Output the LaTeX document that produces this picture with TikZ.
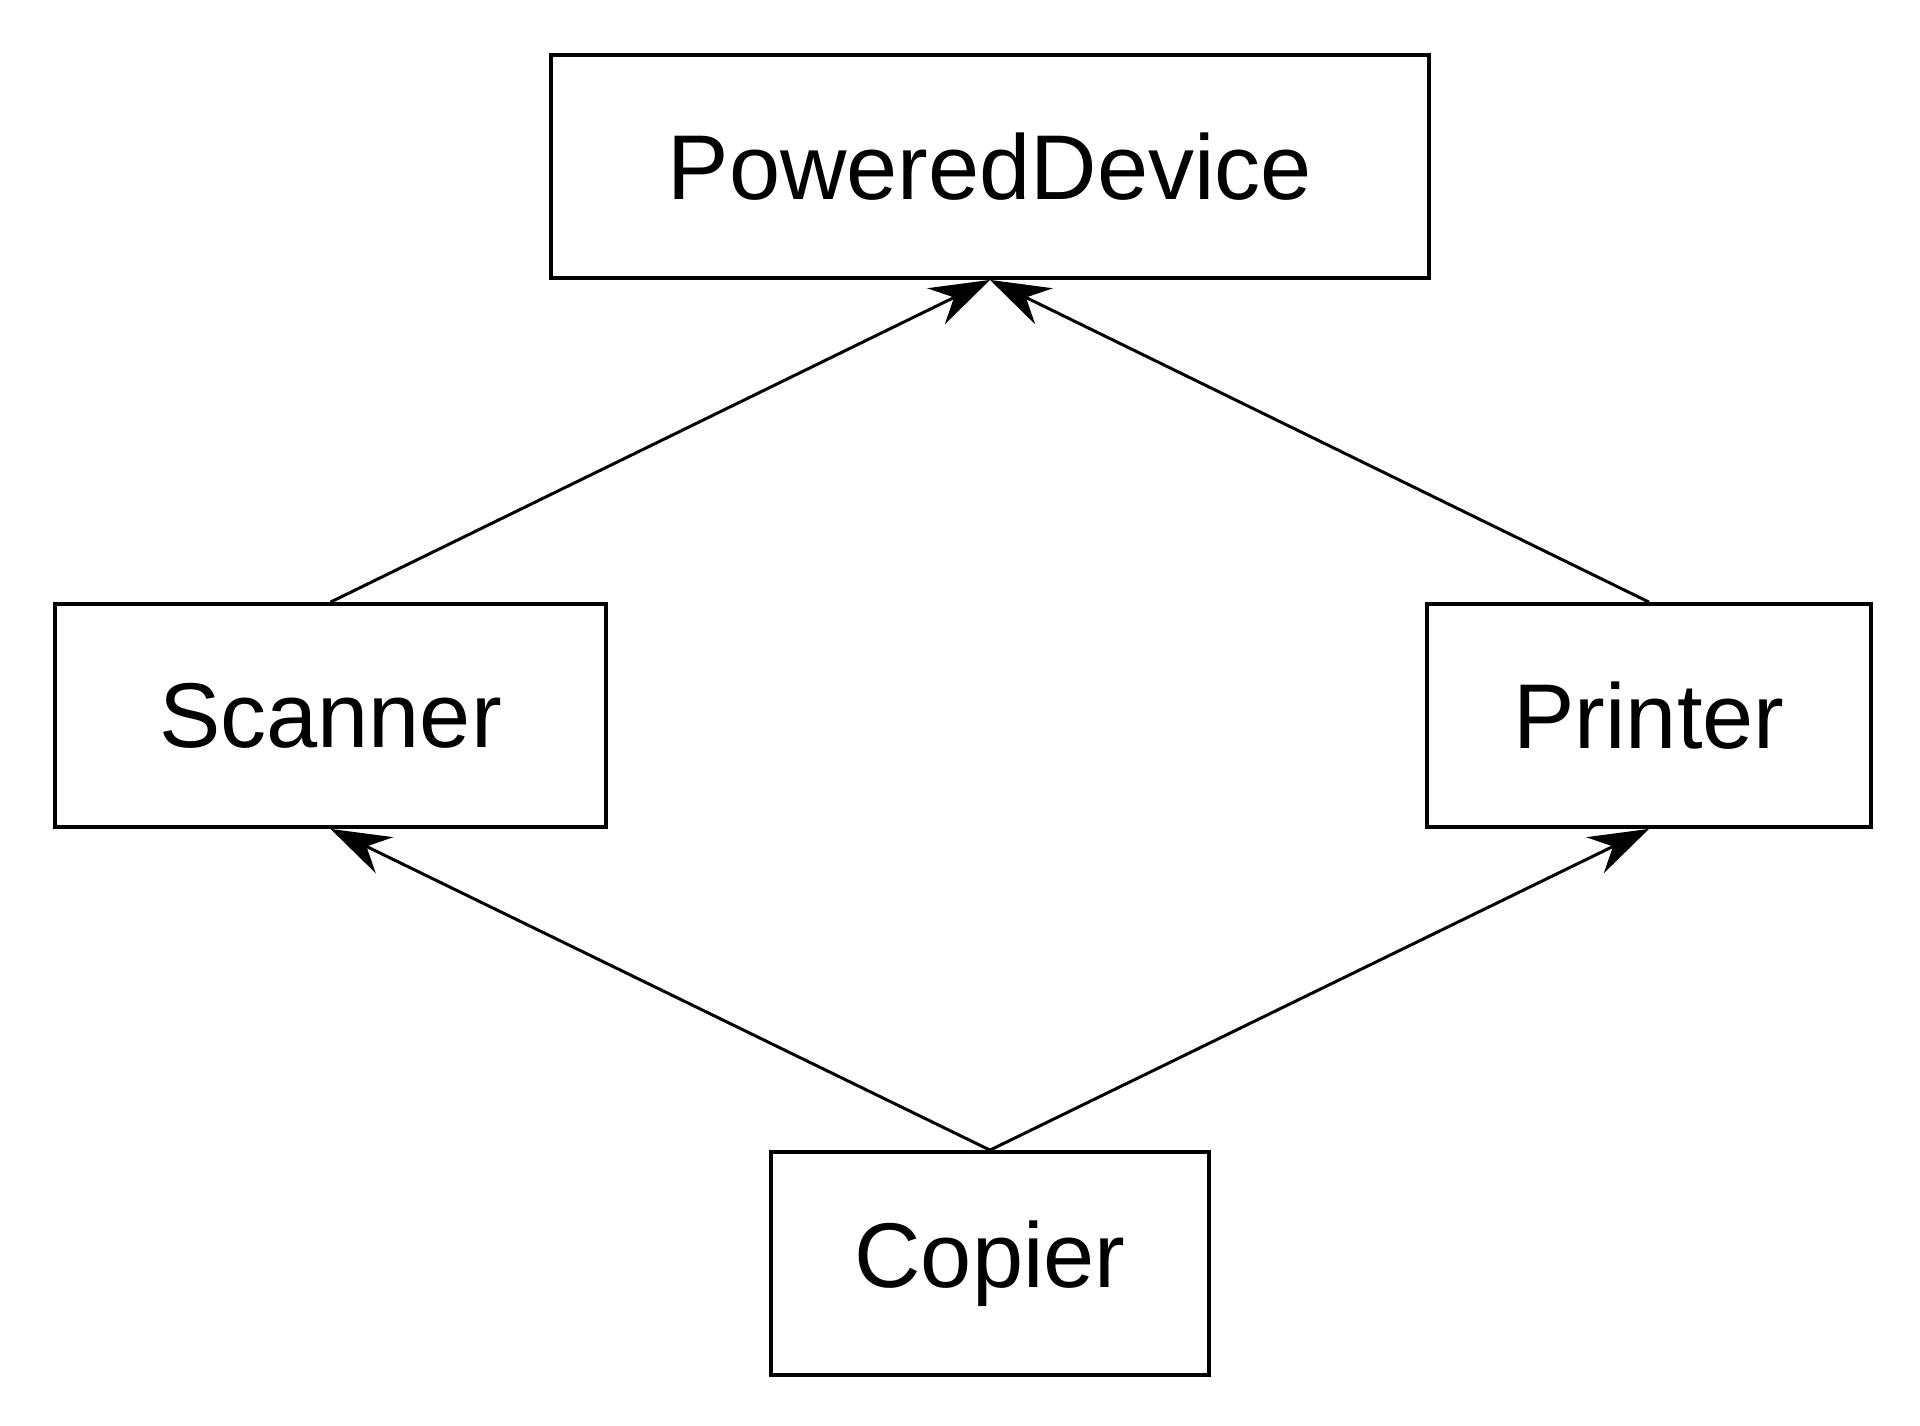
\documentclass[tikz,border=0pt]{standalone}
\usepackage{fontspec}
\setmainfont{Liberation Sans}
\usetikzlibrary{arrows.meta}
\begin{document}
\begin{tikzpicture}[x=0.5pt,y=-0.5pt,
  cls/.style={draw=black, line width=1.9pt, fill=white, inner sep=0pt, font=\fontsize{46}{50}\selectfont},
  gen/.style={draw=black, line width=1.5pt, -{Stealth[length=30pt,width=20pt,inset=10pt]}}]
\useasboundingbox (0,0) rectangle (1920,1425);
\fill[white] (0,0) rectangle (1920,1425);
\node[cls, minimum width=439pt, minimum height=111.5pt] (pd) at (990,166.5) {PoweredDevice};
\node[cls, minimum width=275.5pt, minimum height=111.5pt] (sc) at (330.5,715.5) {Scanner};
\node[cls, minimum width=222pt, minimum height=111.5pt] (pr) at (1649,715.5) {Printer};
\node[cls, minimum width=219pt, minimum height=111.5pt] (co) at (990,1263.5) {Copier};
\draw[gen] (sc.north) -- (pd.south);
\draw[gen] (pr.north) -- (pd.south);
\draw[gen] (co.north) -- (sc.south);
\draw[gen] (co.north) -- (pr.south);
\end{tikzpicture}
\end{document}
